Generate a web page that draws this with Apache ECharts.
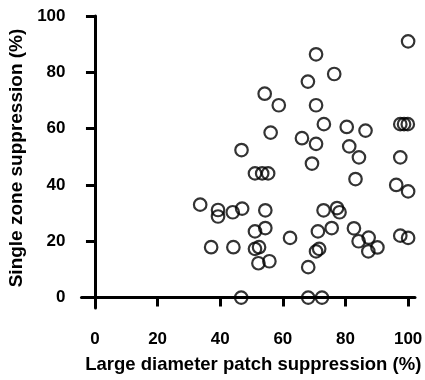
<!DOCTYPE html>
<html>
<head>
<meta charset="utf-8">
<script src="https://cdn.jsdelivr.net/npm/echarts@6/dist/echarts.min.js"></script>
<style>
  html, body { margin: 0; padding: 0; background: #fff; }
  #chart { width: 425px; height: 380px; }
</style>
</head>
<body>
<div id="chart"></div>
<script>
// Large diameter patch suppression (%)
const xValues = [
  100, 70.6, 76.4, 68.0, 54.2, 58.7, 70.6, 73.1, 80.4, 86.4,
  97.5, 98.7, 99.9, 56.1, 66.1, 70.6, 81.2, 84.3, 97.5, 46.8,
  69.3, 51.1, 53.4, 55.3, 83.2, 96.2, 100, 33.6, 39.3, 39.3,
  44.0, 47.0, 54.4, 73.0, 77.3, 78.1, 51.1, 54.4, 62.3, 71.2,
  75.6, 82.7, 84.2, 87.4, 87.3, 90.2, 97.5, 100, 37.1, 44.2,
  51.1, 52.4, 52.2, 55.7, 70.6, 71.6, 68.1, 46.7, 68.1, 72.5
];
// Single zone suppression (%)
const yValues = [
  91.0, 86.4, 79.4, 76.7, 72.4, 68.3, 68.3, 61.6, 60.6, 59.3,
  61.6, 61.6, 61.6, 58.6, 56.6, 54.6, 53.7, 49.8, 49.8, 52.4,
  47.6, 44.1, 44.1, 44.1, 42.1, 40.0, 37.7, 33.0, 31.1, 28.8,
  30.3, 31.6, 31.0, 31.0, 31.8, 30.3, 23.5, 24.7, 21.2, 23.5,
  24.7, 24.6, 20.0, 21.3, 16.4, 17.8, 22.0, 21.2, 17.9, 17.9,
  17.3, 17.9, 12.2, 12.9, 16.4, 17.3, 10.8, 0, 0, 0
];
const xTickLabels = [0, 20, 40, 60, 80, 100];
const xTickMarks = [20, 40, 60, 80, 100];
const yTickLabels = [0, 20, 40, 60, 80, 100];
const yTickMarks = [20, 40, 60, 80, 100];
const xTitle = 'Large diameter patch suppression (%)';
const yTitle = 'Single zone suppression (%)';

const points = xValues.map((x, i) => [x, yValues[i]]);
const font = 'Liberation Sans, Arial, Helvetica, sans-serif';

const chart = echarts.init(document.getElementById('chart'), null, { renderer: 'canvas' });
chart.setOption({
  animation: false,
  backgroundColor: '#fff',
  grid: { left: 81.5, top: 16, width: 333.5, height: 292, outerBoundsMode: 'none', containLabel: false },
  xAxis: {
    type: 'value',
    min: -4.3,
    max: 102.2,
    name: xTitle,
    nameLocation: 'middle',
    nameGap: 47,
    nameTextStyle: { fontFamily: font, fontWeight: 'bold', fontSize: 18.5, color: '#000', padding: [0, 0, 0, 10] },
    splitLine: { show: false },
    axisLine: { show: true, lineStyle: { color: '#000', width: 3 } },
    axisTick: { show: true, inside: false, length: 9, lineStyle: { color: '#000', width: 3 }, customValues: xTickMarks },
    axisLabel: { show: true, margin: 23, fontFamily: font, fontWeight: 'bold', fontSize: 17, color: '#000', customValues: xTickLabels }
  },
  yAxis: {
    type: 'value',
    min: -3.7,
    max: 100,
    name: yTitle,
    nameLocation: 'middle',
    nameGap: 53,
    nameTextStyle: { fontFamily: font, fontWeight: 'bold', fontSize: 19, color: '#000', padding: [0, 0, 0, 8] },
    splitLine: { show: false },
    axisLine: { show: true, lineStyle: { color: '#000', width: 3 } },
    axisTick: { show: true, inside: false, length: 9, lineStyle: { color: '#000', width: 3 }, customValues: yTickMarks },
    axisLabel: { show: true, margin: 16, fontFamily: font, fontWeight: 'bold', fontSize: 17, color: '#000', customValues: yTickLabels }
  },
  series: [{
    type: 'scatter',
    data: points,
    symbol: 'circle',
    symbolSize: 12.5,
    itemStyle: { color: 'rgba(0,0,0,0)', borderColor: '#000', borderWidth: 2.2 },
    emphasis: { disabled: true }
  }]
});
</script>
</body>
</html>
